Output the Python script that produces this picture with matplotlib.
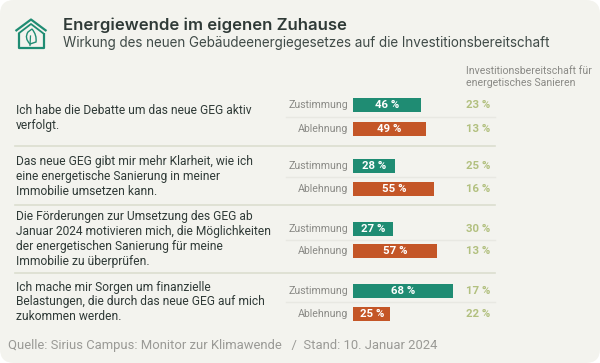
import matplotlib
matplotlib.use("Agg")
import matplotlib.pyplot as plt
from matplotlib.patches import FancyBboxPatch, Polygon, PathPatch
from matplotlib.path import Path

title = "Energiewende im eigenen Zuhause"
subtitle = "Wirkung des neuen Gebäudeenergiegesetzes auf die Investitionsbereitschaft"
side_header = "Investitionsbereitschaft für\nenergetisches Sanieren"
source = "Quelle: Sirius Campus: Monitor zur Klimawende   /  Stand: 10. Januar 2024"
statements = [
    "Ich habe die Debatte um das neue GEG aktiv\nverfolgt.",
    "Das neue GEG gibt mir mehr Klarheit, wie ich\neine energetische Sanierung in meiner\nImmobilie umsetzen kann.",
    "Die Förderungen zur Umsetzung des GEG ab\nJanuar 2024 motivieren mich, die Möglichkeiten\nder energetischen Sanierung für meine\nImmobilie zu überprüfen.",
    "Ich mache mir Sorgen um finanzielle\nBelastungen, die durch das neue GEG auf mich\nzukommen werden.",
]
zustimmung = [46, 28, 27, 68]
ablehnung = [49, 55, 57, 25]
invest_zu = [23, 25, 30, 17]
invest_ab = [13, 16, 13, 22]

W, H = 600, 363
BG, GREEN, RED, OLIVE = "#f3f3ee", "#1f8c73", "#c45627", "#b2c07f"
DARK, GREY = "#2f3a37", "#8a8a86"

fig = plt.figure(figsize=(W / 100, H / 100), dpi=100, facecolor="white")
ax = fig.add_axes([0, 0, 1, 1])
ax.set_xlim(0, W)
ax.set_ylim(H, 0)
ax.axis("off")
ax.add_patch(FancyBboxPatch((0, 0), W, H, boxstyle="round,pad=0,rounding_size=14",
                            fc=BG, ec="none", zorder=0))

# house icon
ax.add_patch(Polygon([(15.5, 31), (31, 19.5), (46.5, 31)], closed=False, fill=False,
                     ec=GREEN, lw=1.6, joinstyle="round", zorder=2))
ax.add_patch(Polygon([(18.5, 33.5), (31, 24), (43.5, 33.5)], closed=False, fill=False,
                     ec=GREEN, lw=1.3, joinstyle="round", zorder=2))
ax.add_patch(Polygon([(19, 33), (19, 48), (44, 48), (44, 33)], closed=False, fill=False,
                     ec=GREEN, lw=1.6, joinstyle="round", zorder=2))
leaf = Path([(30, 44), (24, 38), (28, 32), (32, 29), (37, 35), (36, 42), (30, 44)],
            [Path.MOVETO, Path.CURVE3, Path.CURVE3, Path.LINETO, Path.CURVE3, Path.CURVE3, Path.CLOSEPOLY])
ax.add_patch(PathPatch(leaf, fc="none", ec=GREEN, lw=1.0, zorder=2))
ax.plot([30, 30.5], [45.5, 36], color=GREEN, lw=0.9, zorder=2)

ax.text(63, 25.5, title, family="Inter", weight="semibold", fontsize=12.0, color=DARK, va="center")
ax.text(63, 43.5, subtitle, family="Inter", weight="normal", fontsize=9.7, color="#3f4a47", va="center")
ax.text(465.5, 77.5, side_header, family="Roboto", fontsize=7.6, color=GREY, va="center", linespacing=1.25)

text_y = [118, 176.5, 239, 302]
zu_y = [105, 166, 229, 290.5]
ab_y = [129, 189, 251, 314]
thin_y = [116.7, 177.3, 239.7, 301.7]
thick_y = [146.3, 204.7, 273.3]

for y in thin_y:
    ax.plot([285.5, 495], [y, y], color="#e8e8e2", lw=1.0, zorder=1)
for y in thick_y:
    ax.plot([15, 495], [y, y], color="#dcdecf", lw=1.2, zorder=1)

for i, s in enumerate(statements):
    ax.text(16, text_y[i], s, family="Roboto", fontsize=8.65, color=DARK, va="center", linespacing=1.2)
    ax.text(348, zu_y[i], "Zustimmung", family="Roboto", fontsize=7.6, color=GREY, va="center", ha="right")
    ax.text(348, ab_y[i], "Ablehnung", family="Roboto", fontsize=7.6, color=GREY, va="center", ha="right")
    ax.text(465.5, zu_y[i], f"{invest_zu[i]} %", family="Roboto", weight="bold", fontsize=8.2, color=OLIVE, va="center")
    ax.text(465.5, ab_y[i], f"{invest_ab[i]} %", family="Roboto", weight="bold", fontsize=8.2, color=OLIVE, va="center")

ax.text(8, 346, source, family="Roboto", fontsize=9.4, color="#9a9a96", va="center")

# bars: 1 % = 1.47 px
x0, px_per = 353.5, 1.47
bx = fig.add_axes([x0 / W, 0, 140 / W, 1])
bx.set_xlim(0, 140 / px_per)
bx.set_ylim(H, 0)
bx.axis("off")
bx.patch.set_alpha(0)
bx.barh(zu_y, zustimmung, height=14, color=GREEN)
bx.barh(ab_y, ablehnung, height=14, color=RED)
for vals, ys in ((zustimmung, zu_y), (ablehnung, ab_y)):
    for v, y in zip(vals, ys):
        bx.text(v / 2, y, f"{v} %", family="Roboto", weight="bold", fontsize=8.2,
                color="white", ha="center", va="center")

fig.savefig("out.png", dpi=100, facecolor="white")
